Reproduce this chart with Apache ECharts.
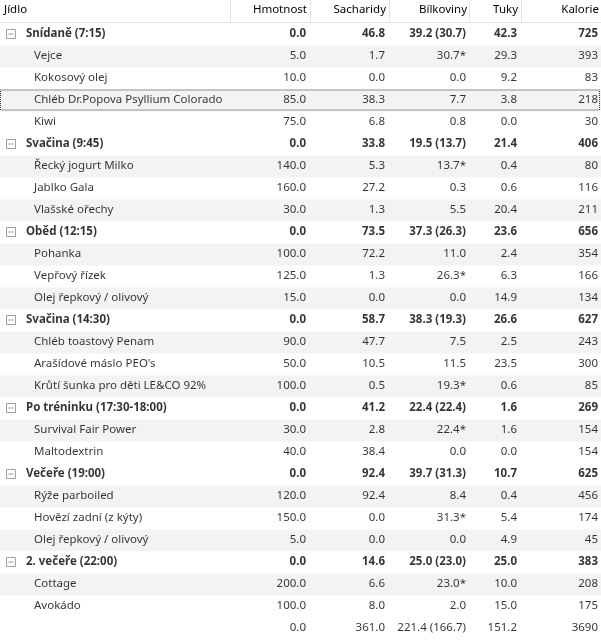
<!DOCTYPE html>
<html><head><meta charset="utf-8">
<script src="https://cdn.jsdelivr.net/npm/echarts@6/dist/echarts.min.js"></script>
<style>html,body{margin:0;padding:0;background:#fff}#c{width:601px;height:641px}</style>
</head><body><div id="c"></div>
<script>
// hlavičky sloupců
const headers = ['Jídlo', 'Hmotnost', 'Sacharidy', 'Bílkoviny', 'Tuky', 'Kalorie'];
// řádky: typ (g = skupina, i = položka, t = součet)
const rowTypes = ['g','i','i','i','i','g','i','i','i','g','i','i','i','g','i','i','i','g','i','i','g','i','i','i','g','i','i','t'];
const names = ['Snídaně (7:15)','Vejce','Kokosový olej','Chléb Dr.Popova Psyllium Colorado','Kiwi',
  'Svačina (9:45)','Řecký jogurt Milko','Jablko Gala','Vlašské ořechy',
  'Oběd (12:15)','Pohanka','Vepřový řízek','Olej řepkový / olivový',
  'Svačina (14:30)','Chléb toastový Penam','Arašídové máslo PEO\'s','Krůtí šunka pro děti LE&CO 92%',
  'Po tréninku (17:30-18:00)','Survival Fair Power','Maltodextrin',
  'Večeře (19:00)','Rýže parboiled','Hovězí zadní (z kýty)','Olej řepkový / olivový',
  '2. večeře (22:00)','Cottage','Avokádo',''];
const hmotnost = ['0.0','5.0','10.0','85.0','75.0','0.0','140.0','160.0','30.0','0.0','100.0','125.0','15.0','0.0','90.0','50.0','100.0','0.0','30.0','40.0','0.0','120.0','150.0','5.0','0.0','200.0','100.0','0.0'];
const sacharidy = ['46.8','1.7','0.0','38.3','6.8','33.8','5.3','27.2','1.3','73.5','72.2','1.3','0.0','58.7','47.7','10.5','0.5','41.2','2.8','38.4','92.4','92.4','0.0','0.0','14.6','6.6','8.0','361.0'];
const bilkoviny = ['39.2 (30.7)','30.7*','0.0','7.7','0.8','19.5 (13.7)','13.7*','0.3','5.5','37.3 (26.3)','11.0','26.3*','0.0','38.3 (19.3)','7.5','11.5','19.3*','22.4 (22.4)','22.4*','0.0','39.7 (31.3)','8.4','31.3*','0.0','25.0 (23.0)','23.0*','2.0','221.4 (166.7)'];
const tuky = ['42.3','29.3','9.2','3.8','0.0','21.4','0.4','0.6','20.4','23.6','2.4','6.3','14.9','26.6','2.5','23.5','0.6','1.6','1.6','0.0','10.7','0.4','5.4','4.9','25.0','10.0','15.0','151.2'];
const kalorie = ['725','393','83','218','30','406','80','116','211','656','354','166','134','627','243','300','85','269','154','154','625','456','174','45','383','208','175','3690'];
const selectedRow = 3;

const rowIdx = names.map((_, i) => i);
const colRight = [0, 306, 385, 466, 517, 598];
const valueCols = [hmotnost, sacharidy, bilkoviny, tuky, kalorie];
const font = 'Noto Sans';

// střídavé podbarvení položek ve skupině
let k = 0;
const shade = rowTypes.map(t => { if (t !== 'i') { k = 0; return '-'; } k++; return k % 2 === 1 ? 601 : '-'; });

const textSeries = (data, align, bold) => ({
  type: 'scatter', symbolSize: 0, silent: true, z: 5,
  data: data,
  label: { show: true, position: 'inside', align: align, verticalAlign: 'middle', color: '#000',
    fontFamily: font, fontSize: 11.5, fontWeight: bold ? 'bold' : 'normal',
    formatter: p => p.data[2] }
});

const series = [
  { type: 'bar', data: shade, barWidth: 22, barGap: '-100%', silent: true,
    itemStyle: { color: '#f3f3f3' } },
  { type: 'bar', data: rowIdx.map(i => i === selectedRow ? 600 : '-'), barWidth: 21, silent: true,
    itemStyle: { color: 'rgba(0,0,0,0)', borderColor: '#333', borderWidth: 1, borderType: [1, 1] } },
  textSeries(rowIdx.filter(i => rowTypes[i] === 'g').map(i => [26, i, names[i]]), 'left', true),
  textSeries(rowIdx.filter(i => rowTypes[i] === 'i').map(i => [34, i, names[i]]), 'left', false),
  { type: 'scatter', symbol: 'path://M0,0H10V10H0Z M2,5H8', symbolSize: 9, silent: true,
    itemStyle: { color: '#fff', borderColor: '#888', borderWidth: 1 },
    data: rowIdx.filter(i => rowTypes[i] === 'g').map(i => [11, i]) }
];
valueCols.forEach((col, c) => {
  series.push(textSeries(rowIdx.filter(i => rowTypes[i] === 'g').map(i => [colRight[c + 1], i, col[i]]), 'right', true));
  series.push(textSeries(rowIdx.filter(i => rowTypes[i] !== 'g').map(i => [colRight[c + 1], i, col[i]]), 'right', false));
});

const chart = echarts.init(document.getElementById('c'));
chart.setOption({
  animation: false,
  grid: { left: 0, right: 0, top: 23, height: 616 },
  xAxis: { type: 'value', min: 0, max: 601, show: false },
  yAxis: { type: 'category', data: rowIdx, inverse: true, show: false },
  graphic: [
    { type: 'line', shape: { x1: 0, y1: 22.5, x2: 601, y2: 22.5 }, style: { stroke: '#e2e2e2' } },
    ...[230, 310, 389, 469, 521].map(x => ({ type: 'line', shape: { x1: x + 0.5, y1: 0, x2: x + 0.5, y2: 22 }, style: { stroke: '#e5e5e5' } })),
    ...headers.map((h, c) => ({ type: 'text', left: c === 0 ? 4 : undefined, right: c === 0 ? undefined : 601 - colRight[c] - 1, top: 4,
      style: { text: h, fontFamily: font, fontSize: 11.5, fill: '#000' } }))
  ],
  series: series
});
</script></body></html>
